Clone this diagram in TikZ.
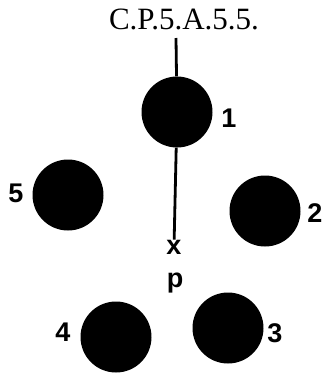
\documentclass[tikz,border=0pt]{standalone}
\usepackage{fontspec}
\setmainfont{Liberation Serif}
\newfontfamily\numfont{Liberation Sans}
\usetikzlibrary{positioning}
\tikzset{
pellet/.style={
circle,
fill=black,
minimum size=71pt,
inner sep=0pt
},
num/.style={
inner sep=0pt,
font=\numfont\bfseries\fontsize{27}{27}\selectfont
},
stem/.style={
line width=2.8pt
}
}
\begin{document}
\begin{tikzpicture}[x=1pt,y=-1pt]
\useasboundingbox (0,0) rectangle (322,376);
\node[font=\fontsize{31}{31}\selectfont](title) at (184,19){C.P.5.A.5.5.};
\coordinate (top) at (176,38);
\node[pellet](c1) at (177,112){};
\node[pellet](c2) at (265,211){};
\node[pellet](c3) at (228,328){};
\node[pellet](c4) at (116,337){};
\node[pellet](c5) at (68,195){};
\node[num](l1) at (229,118){1};
\node[num](l2) at (315,213){2};
\node[num](l3) at (275,333){3};
\node[num](l4) at (63,332){4};
\node[num](l5) at (16,193){5};
\node[num](xm) at (174,247){x};
\node[num](pm) at (175,283){p};

\draw[stem](top)--(c1);
\draw[stem](c1)--(xm);
\end{tikzpicture}
\end{document}
